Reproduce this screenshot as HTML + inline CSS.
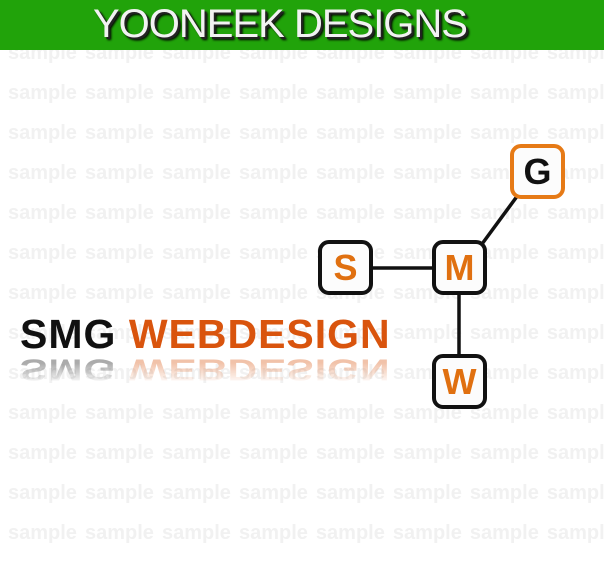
<!DOCTYPE html>
<html><head><style>
body{margin:0;width:604px;height:565px;overflow:hidden;background:#fff;position:relative;font-family:"Liberation Sans",Arial,sans-serif}
.wm{position:absolute;left:8px;white-space:nowrap;font-weight:bold;font-size:20px;color:#f1f1f1;word-spacing:2.5px;line-height:20px}
.hdr{position:absolute;left:0;top:0;width:604px;height:50px;background:#21a30a;z-index:2}
.hdr div{position:absolute;left:85px;top:2px;width:390px;text-align:center;white-space:nowrap;font-size:40px;color:#f2f2f2;letter-spacing:-1px;text-shadow:2px 2px 0 #222,3px 3px 2px #000}
.logo,.refl{position:absolute;left:20px;font-size:41px;font-weight:bold;white-space:nowrap;line-height:46px;letter-spacing:1px;word-spacing:0;z-index:1}
.logo{top:311px}
.refl{top:347px;transform:scaleY(-0.75);opacity:.35;-webkit-mask-image:linear-gradient(to top,#000 30%,transparent 90%)}
.o{color:#d9540d}
.box{position:absolute;width:47px;height:47px;border:4px solid #111;border-radius:11px;background:#fcfcfc;font-size:36px;font-weight:bold;color:#e07010;text-align:center;line-height:47px;z-index:3}
svg{position:absolute;left:0;top:0;z-index:2}
</style></head><body>
<div class="wm" style="top:43px">sample sample sample sample sample sample sample sample</div>
<div class="wm" style="top:83px">sample sample sample sample sample sample sample sample</div>
<div class="wm" style="top:123px">sample sample sample sample sample sample sample sample</div>
<div class="wm" style="top:163px">sample sample sample sample sample sample sample sample</div>
<div class="wm" style="top:203px">sample sample sample sample sample sample sample sample</div>
<div class="wm" style="top:243px">sample sample sample sample sample sample sample sample</div>
<div class="wm" style="top:283px">sample sample sample sample sample sample sample sample</div>
<div class="wm" style="top:323px">sample sample sample sample sample sample sample sample</div>
<div class="wm" style="top:363px">sample sample sample sample sample sample sample sample</div>
<div class="wm" style="top:403px">sample sample sample sample sample sample sample sample</div>
<div class="wm" style="top:443px">sample sample sample sample sample sample sample sample</div>
<div class="wm" style="top:483px">sample sample sample sample sample sample sample sample</div>
<div class="wm" style="top:523px">sample sample sample sample sample sample sample sample</div>
<div class="hdr"><div>YOONEEK DESIGNS</div></div>
<div class="logo"><span style="color:#111">SMG</span> <span class="o">WEBDESIGN</span></div>
<div class="refl"><span style="color:#111">SMG</span> <span class="o">WEBDESIGN</span></div>
<svg width="604" height="565"><g stroke="#111" stroke-width="3.5"><line x1="372" y1="268" x2="432" y2="268"/><line x1="459" y1="295" x2="459" y2="354"/><line x1="482" y1="244" x2="518" y2="195"/></g></svg>
<div class="box" style="left:318px;top:240px">S</div>
<div class="box" style="left:432px;top:240px">M</div>
<div class="box" style="left:432px;top:354px">W</div>
<div class="box" style="left:510px;top:144px;border-color:#e67a16;color:#111">G</div>
</body></html>
